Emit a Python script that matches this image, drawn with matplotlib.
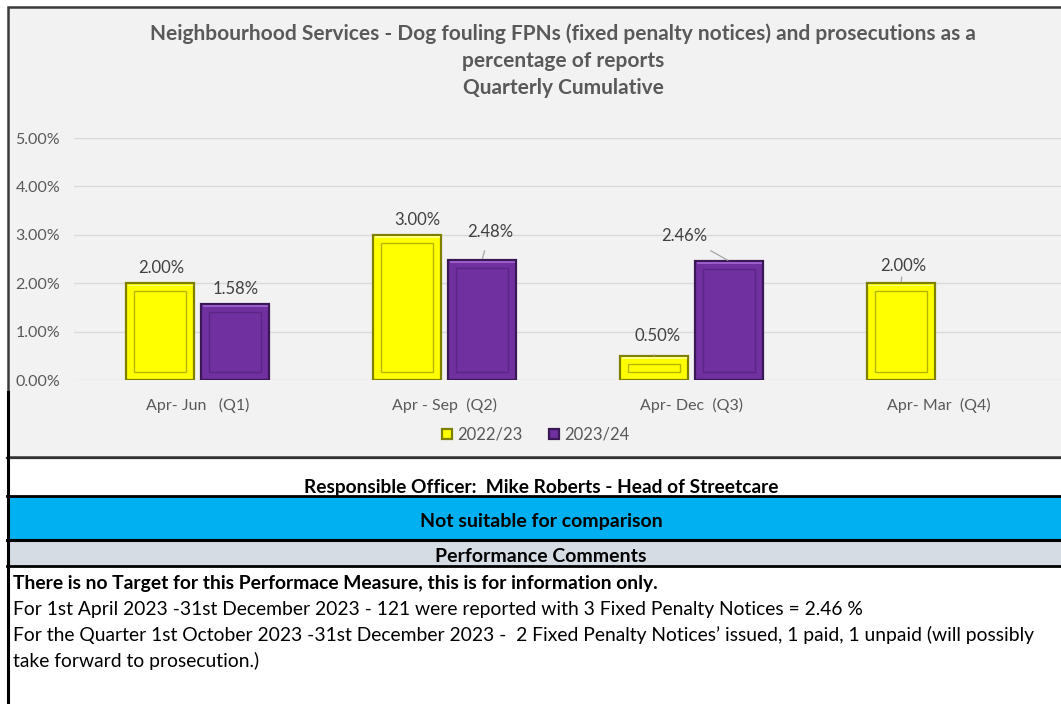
import matplotlib
matplotlib.use("Agg")
import matplotlib.pyplot as plt
from matplotlib.patches import Rectangle
from matplotlib.lines import Line2D

# ---------------- data ----------------
categories = ["Apr- Jun   (Q1)", "Apr - Sep  (Q2)", "Apr- Dec  (Q3)", "Apr- Mar  (Q4)"]
series_names = ["2022/23", "2023/24"]
values_2022 = [2.00, 3.00, 0.50, 2.00]
values_2023 = [1.58, 2.48, 2.46, None]
y_ticks = [0, 1, 2, 3, 4, 5]

title_lines = ["Neighbourhood Services - Dog fouling FPNs (fixed penalty notices) and prosecutions as a",
               "percentage of reports",
               "Quarterly Cumulative"]
officer_text = "Responsible Officer:  Mike Roberts - Head of Streetcare"
comparison_text = "Not suitable for comparison"
comments_header = "Performance Comments"
comment_lines = [
    "There is no Target for this Performace Measure, this is for information only.",
    "For 1st April 2023 -31st December 2023 - 121 were reported with 3 Fixed Penalty Notices = 2.46 %",
    "For the Quarter 1st October 2023 -31st December 2023 -  2 Fixed Penalty Notices\u2019 issued, 1 paid, 1 unpaid (will possibly",
    "take forward to prosecution.)",
]

# ---------------- styling ----------------
W, H = 1061, 704
FONT = ["Lato", "DejaVu Sans"]
plt.rcParams["font.family"] = FONT

fig = plt.figure(figsize=(W / 100, H / 100), dpi=100)
fig.patch.set_facecolor("white")


def fx(x):
    return x / W


def fy(y):
    return 1 - y / H


def frect(x0, y0, x1, y1, **kw):
    r = Rectangle((fx(x0), fy(y1)), fx(x1) - fx(x0), fy(y0) - fy(y1),
                  transform=fig.transFigure, **kw)
    fig.add_artist(r)
    return r


def hline(y, x0=7, x1=1061, lw=2.0, color="black"):
    fig.add_artist(Line2D([fx(x0), fx(x1)], [fy(y), fy(y)], transform=fig.transFigure,
                          color=color, lw=lw))


# chart panel
frect(8, 7, 1066, 457, facecolor="#F2F2F2", edgecolor="#3a3a3a", lw=1.8, zorder=0)

# lower table bands
frect(8, 497, 1066, 539, facecolor="#00B0F0", edgecolor="none", zorder=1)
frect(8, 541, 1066, 566, facecolor="#D6DCE4", edgecolor="none", zorder=1)
hline(457.5, lw=1.6, color="#333333")
hline(496, lw=2.0)
hline(539.5, lw=2.2)
hline(566, lw=2.0)
fig.add_artist(Line2D([fx(7.5), fx(7.5)], [fy(392), fy(704)], transform=fig.transFigure,
                      color="black", lw=2.2))

# title
for i, t in enumerate(title_lines):
    fig.text(fx(563), fy(34 + 27 * i), t, ha="center", va="center", fontsize=15,
             fontweight="bold", color="#595959")

# axes
ax_l, ax_r, ax_t, ax_b = 74, 1062, 138, 380
ax = fig.add_axes([fx(ax_l), fy(ax_b), fx(ax_r) - fx(ax_l), fy(ax_t) - fy(ax_b)])
ax.set_facecolor("none")
ax.set_xlim(-0.5, len(categories) - 0.5)
ax.set_ylim(0, 5)
for s in ax.spines.values():
    s.set_visible(False)
ax.set_yticks(y_ticks)
ax.set_yticklabels([f"{v:.2f}%" for v in y_ticks], fontsize=11.5, color="#595959")
ax.set_xticks(range(len(categories)))
ax.set_xticklabels(categories, fontsize=11.5, color="#595959")
ax.tick_params(axis="both", length=0)
ax.tick_params(axis="y", pad=10)
ax.tick_params(axis="x", pad=13)
ax.grid(axis="y", color="#D9D9D9", lw=1.0)
ax.set_axisbelow(True)

px_x = (len(categories)) / (ax_r - ax_l)   # data units per pixel (x)
px_y = 5.0 / (ax_b - ax_t)                  # data units per pixel (y)

bar_w = 68 * px_x
off = 37.5 * px_x

styles = [
    dict(face="#FFFF00", edge="#7F7F00", inner="#B5B500", hi="#FFFF80"),
    dict(face="#7030A0", edge="#3A1856", inner="#5A2585", hi="#9A5CC8"),
]

label_offsets = [
    [(1, 15), (10, 15), (4, 20), (2, 17)],
    [(1, 15), (8, 28), (-45, 25), None],
]
leader = [
    [False, False, True, True],
    [False, True, True, False],
]

for si, vals in enumerate([values_2022, values_2023]):
    st = styles[si]
    xs = [i + (-off if si == 0 else off) for i, v in enumerate(vals) if v is not None]
    hs = [v for v in vals if v is not None]
    bars = ax.bar(xs, hs, width=bar_w, color=st["face"], edgecolor=st["edge"],
                  linewidth=1.6, zorder=3, label=series_names[si])
    for b in bars:
        x0, w, h = b.get_x(), b.get_width(), b.get_height()
        ins_x, ins_y = 8 * px_x, 8 * px_y
        # top highlight
        ax.add_patch(Rectangle((x0 + 1.5 * px_x, h - 3 * px_y), w - 3 * px_x, 1.6 * px_y,
                               facecolor=st["hi"], edgecolor="none", zorder=4))
        ax.add_patch(Rectangle((x0 + ins_x, ins_y), w - 2 * ins_x, max(h - 2 * ins_y, 0.02),
                               facecolor="none", edgecolor=st["inner"], lw=1.0, zorder=4))
    j = 0
    for i, v in enumerate(vals):
        if v is None:
            continue
        xc = xs[j]
        j += 1
        dx, dy = label_offsets[si][i]
        if leader[si][i]:
            ax.annotate(f"{v:.2f}%", xy=(xc, v), xytext=(dx, dy), textcoords="offset pixels",
                        ha="center", va="center", fontsize=12, color="#404040", zorder=5,
                        arrowprops=dict(arrowstyle="-", color="#A6A6A6", lw=0.9,
                                        shrinkA=6, shrinkB=1))
        else:
            ax.annotate(f"{v:.2f}%", xy=(xc, v), xytext=(dx, dy), textcoords="offset pixels",
                        ha="center", va="center", fontsize=12, color="#404040", zorder=5)

leg = ax.legend(loc="center", bbox_to_anchor=(fx(536), fy(435)), bbox_transform=fig.transFigure,
                ncol=2, frameon=False, fontsize=12, handlelength=0.6, handleheight=0.6,
                handletextpad=0.3, columnspacing=1.6, labelcolor="#595959")

# lower table text
fig.text(fx(541), fy(488), officer_text, ha="center", va="center", fontsize=13.8,
         fontweight="bold", color="black")
fig.text(fx(541), fy(522), comparison_text, ha="center", va="center", fontsize=14,
         fontweight="bold", color="black")
fig.text(fx(541), fy(557), comments_header, ha="center", va="center", fontsize=14,
         fontweight="bold", color="black")
for k, line in enumerate(comment_lines):
    fig.text(fx(13), fy(583 + 26 * k), line, ha="left", va="center", fontsize=13.9,
             fontweight="bold" if k == 0 else "normal", color="black")

fig.savefig("out.png", dpi=100)
